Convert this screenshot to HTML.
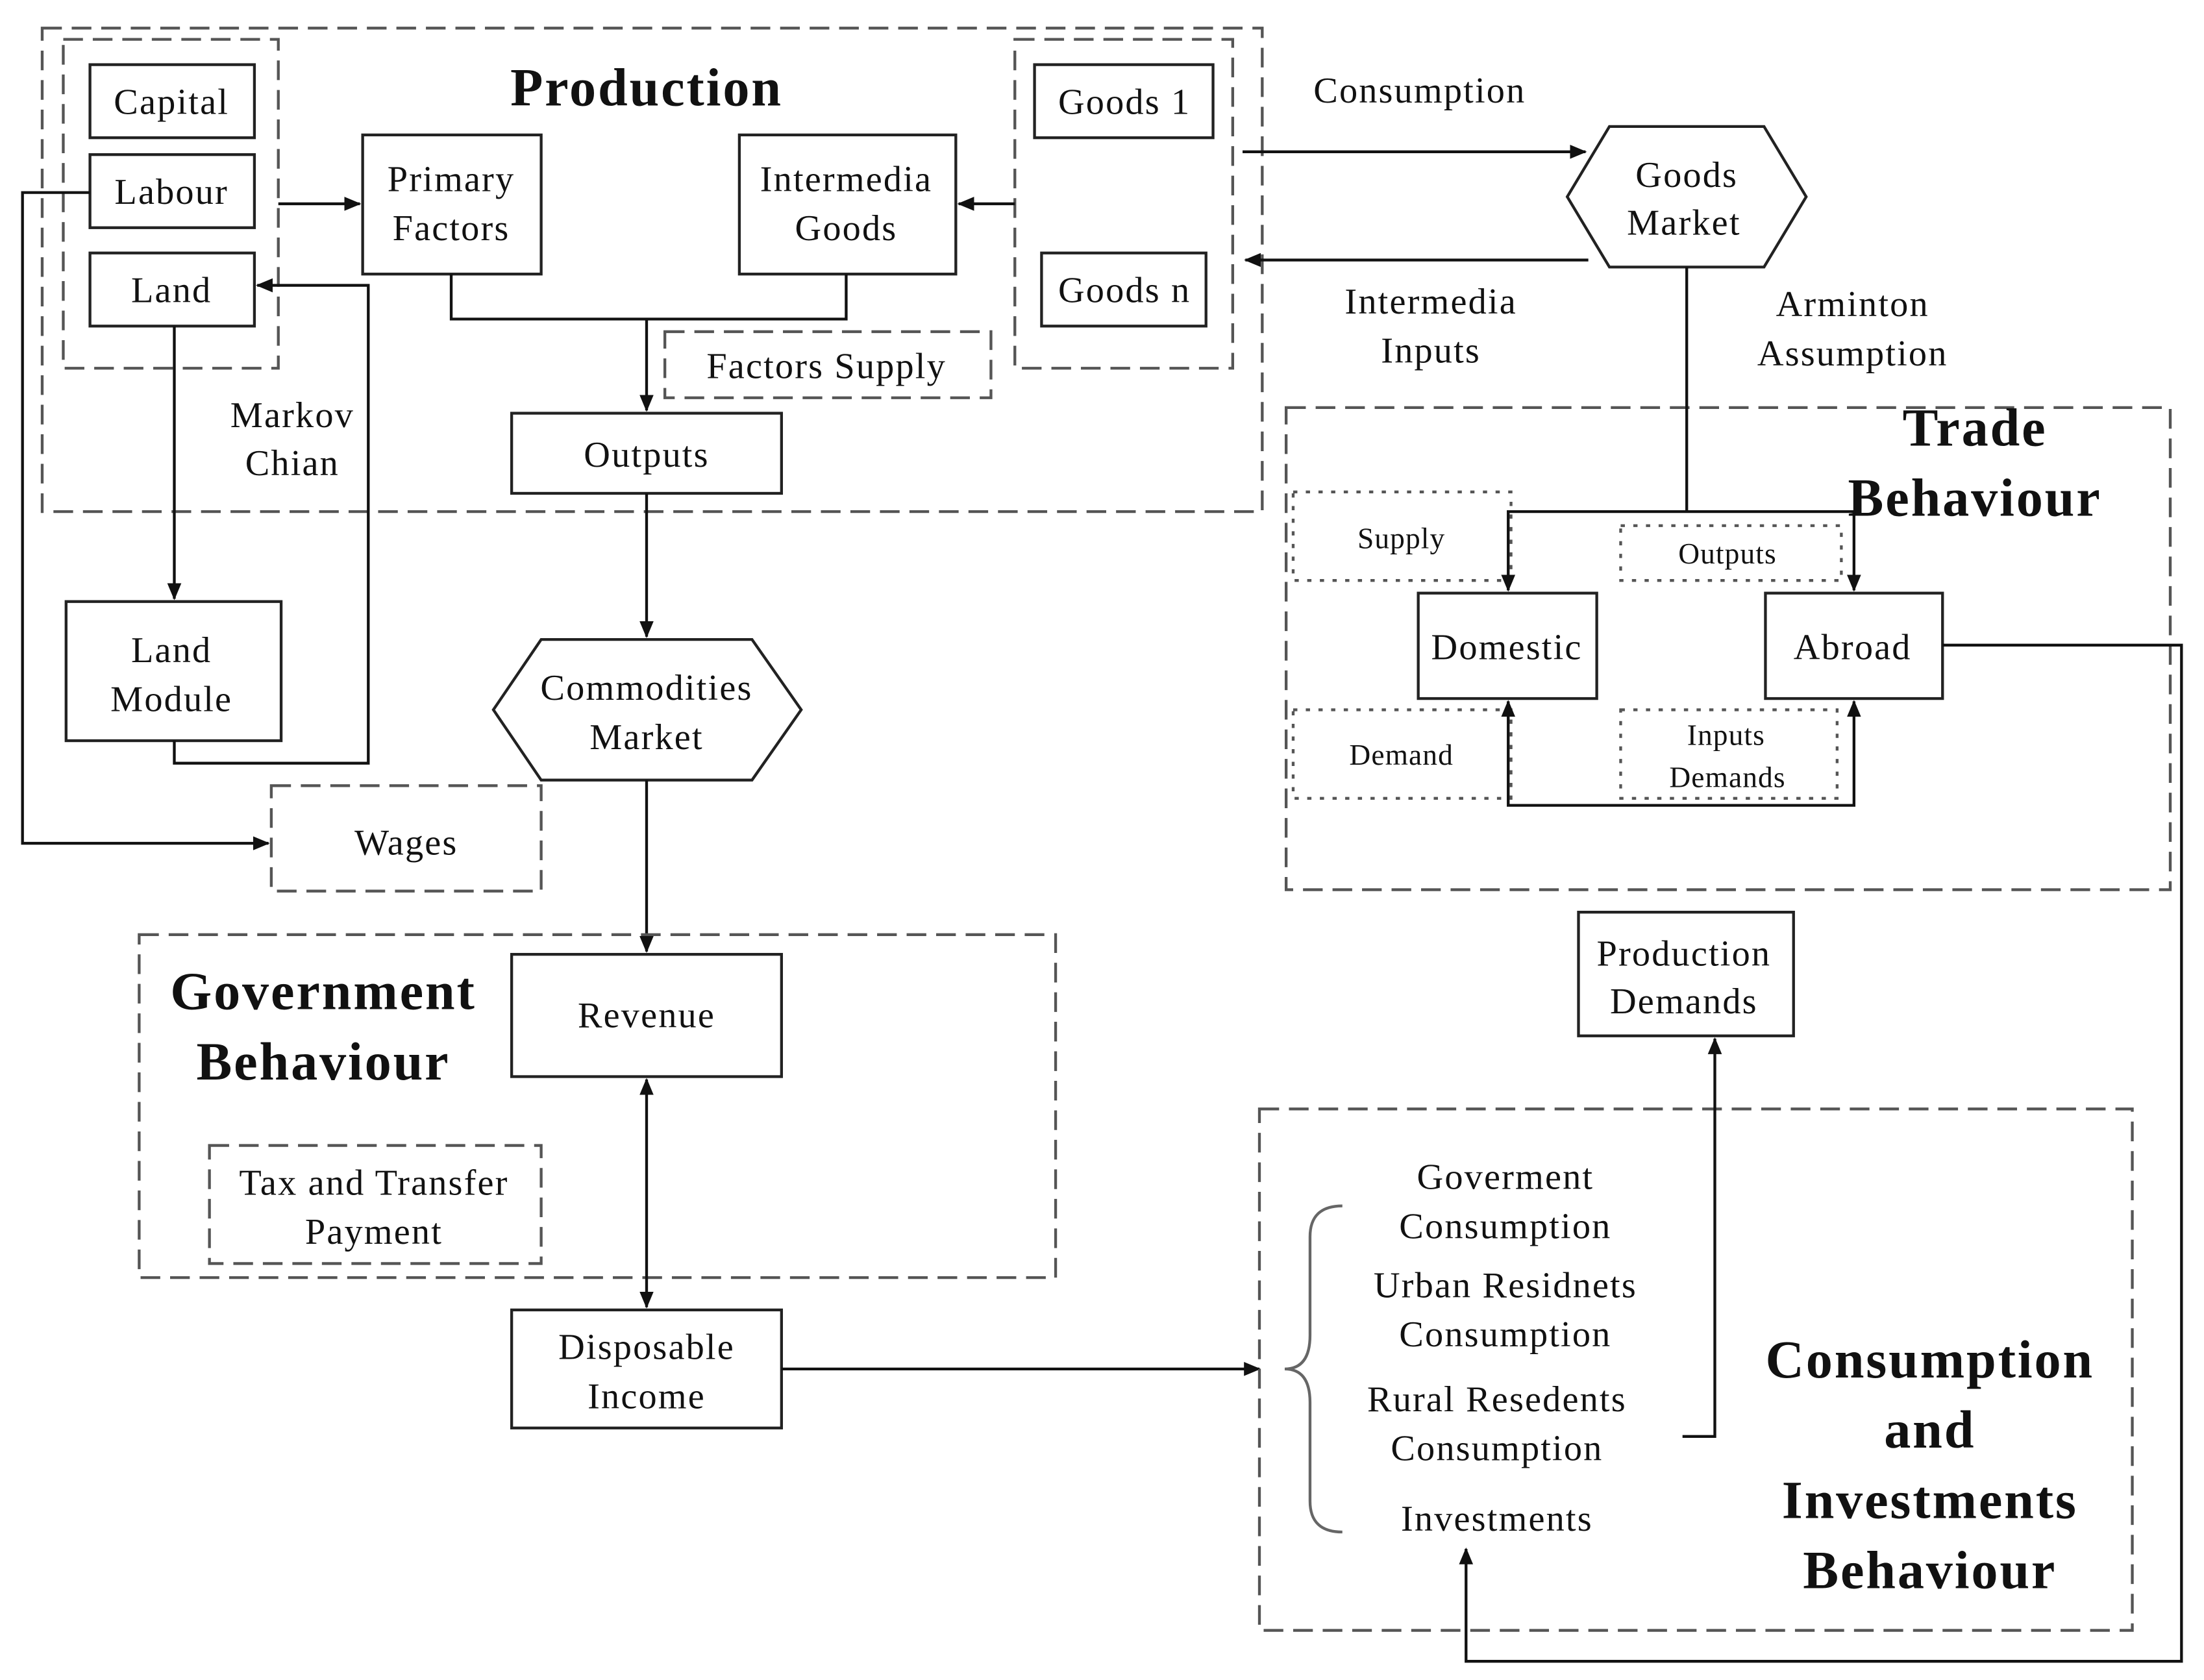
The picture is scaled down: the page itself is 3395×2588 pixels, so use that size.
<!DOCTYPE html>
<html><head><meta charset="utf-8"><style>
html,body{margin:0;padding:0;background:#fff;}
svg{display:block;}
text{font-family:"Liberation Serif",serif;fill:#111;text-anchor:middle;}
.t{font-size:26px;letter-spacing:1px;}
.s{font-size:21px;letter-spacing:0.5px;}
.b{font-size:38px;font-weight:bold;letter-spacing:1.3px;}
.box{fill:#fff;stroke:#222;stroke-width:2;}
.dash{fill:none;stroke:#555;stroke-width:2;stroke-dasharray:14,7;}
.dot{fill:none;stroke:#555;stroke-width:2;stroke-dasharray:3,6;}
.ln{fill:none;stroke:#111;stroke-width:2;}
</style></head><body>
<svg width="3395" height="2588" viewBox="0 0 1568 1195.3" xmlns="http://www.w3.org/2000/svg">
<defs><marker id="a" markerWidth="12" markerHeight="12" refX="11" refY="6" orient="auto-start-reverse" markerUnits="userSpaceOnUse"><path d="M0,1 L12,6 L0,11 Z" fill="#111"/></marker></defs>
<rect width="1568" height="1196" fill="#fff"/>
<!-- Production -->
<rect class="dash" x="30" y="20" width="868" height="344"/>
<rect class="dash" x="45" y="28" width="153" height="234"/>
<rect class="dash" x="722" y="28" width="155" height="234"/>
<text class="b" x="460" y="75">Production</text>
<rect class="box" x="64" y="46" width="117" height="52"/><text class="t" x="122" y="81">Capital</text>
<rect class="box" x="64" y="110" width="117" height="52"/><text class="t" x="122" y="145">Labour</text>
<rect class="box" x="64" y="180" width="117" height="52"/><text class="t" x="122" y="215">Land</text>
<rect class="box" x="258" y="96" width="127" height="99"/><text class="t" x="321" y="136">Primary</text><text class="t" x="321" y="171">Factors</text>
<rect class="box" x="526" y="96" width="154" height="99"/><text class="t" x="602" y="136">Intermedia</text><text class="t" x="602" y="171">Goods</text>
<rect class="box" x="736" y="46" width="127" height="52"/><text class="t" x="800" y="81">Goods 1</text>
<rect class="box" x="741" y="180" width="117" height="52"/><text class="t" x="800" y="215">Goods n</text>
<rect class="dash" x="473" y="236" width="232" height="47"/><text class="t" x="588" y="269">Factors Supply</text>
<rect class="box" x="364" y="294" width="192" height="57"/><text class="t" x="460" y="332">Outputs</text>
<path class="ln" d="M321,195 V227 H602 V195"/>
<path class="ln" d="M460,227 V292" marker-end="url(#a)"/>
<path class="ln" d="M198,145 H256" marker-end="url(#a)"/>
<path class="ln" d="M722,145 H682" marker-end="url(#a)"/>
<text class="t" x="208" y="304">Markov</text><text class="t" x="208" y="338">Chian</text>
<!-- Land module -->
<path class="ln" d="M124,232 V426" marker-end="url(#a)"/>
<rect class="box" x="47" y="428" width="153" height="99"/><text class="t" x="122" y="471">Land</text><text class="t" x="122" y="506">Module</text>
<path class="ln" d="M124,527 V543 H262 V203 H183" marker-end="url(#a)"/>
<path class="ln" d="M64,137 H16 V600 H191" marker-end="url(#a)"/>
<rect class="dash" x="193" y="559" width="192" height="75"/><text class="t" x="289" y="608">Wages</text>
<!-- Commodities -->
<path class="ln" d="M460,351 V453" marker-end="url(#a)"/>
<polygon class="box" points="351,505 385,455 535,455 570,505 535,555 385,555"/>
<text class="t" x="460" y="498">Commodities</text><text class="t" x="460" y="533">Market</text>
<path class="ln" d="M460,555 V677" marker-end="url(#a)"/>
<!-- Government -->
<rect class="dash" x="99" y="665" width="652" height="244"/>
<text class="b" x="230" y="718">Government</text><text class="b" x="230" y="768">Behaviour</text>
<rect class="box" x="364" y="679" width="192" height="87"/><text class="t" x="460" y="731">Revenue</text>
<rect class="dash" x="149" y="815" width="236" height="84"/><text class="t" x="266" y="850">Tax and Transfer</text><text class="t" x="266" y="885">Payment</text>
<path class="ln" d="M460,768 V930" marker-start="url(#a)" marker-end="url(#a)"/>
<rect class="box" x="364" y="932" width="192" height="84"/><text class="t" x="460" y="967">Disposable</text><text class="t" x="460" y="1002">Income</text>
<path class="ln" d="M556,974 H896" marker-end="url(#a)"/>
<!-- Goods market -->
<text class="t" x="1010" y="73">Consumption</text>
<path class="ln" d="M884,108 H1128" marker-end="url(#a)"/>
<polygon class="box" points="1115,140 1145,90 1255,90 1285,140 1255,190 1145,190"/>
<text class="t" x="1200" y="133">Goods</text><text class="t" x="1198" y="167">Market</text>
<path class="ln" d="M1130,185 H886" marker-end="url(#a)"/>
<text class="t" x="1018" y="223">Intermedia</text><text class="t" x="1018" y="258">Inputs</text>
<text class="t" x="1318" y="225">Arminton</text><text class="t" x="1318" y="260">Assumption</text>
<!-- Trade -->
<rect class="dash" x="915" y="290" width="629" height="343"/>
<text class="b" x="1405" y="317">Trade</text><text class="b" x="1405" y="367">Behaviour</text>
<rect class="dot" x="920" y="350" width="155" height="63"/><text class="s" x="997" y="390">Supply</text>
<rect class="dot" x="1153" y="374" width="157" height="39"/><text class="s" x="1229" y="401">Outputs</text>
<rect class="dot" x="920" y="505" width="155" height="63"/><text class="s" x="997" y="544">Demand</text>
<rect class="dot" x="1153" y="505" width="154" height="63"/><text class="s" x="1228" y="530">Inputs</text><text class="s" x="1229" y="560">Demands</text>
<path class="ln" d="M1200,190 V364"/>
<path class="ln" d="M1073,420 V364 H1319 V420" marker-start="url(#a)" marker-end="url(#a)"/>
<rect class="box" x="1009" y="422" width="127" height="75"/><text class="t" x="1072" y="469">Domestic</text>
<rect class="box" x="1256" y="422" width="126" height="75"/><text class="t" x="1318" y="469">Abroad</text>
<path class="ln" d="M1073,499 V573 H1319 V499" marker-start="url(#a)" marker-end="url(#a)"/>
<path class="ln" d="M1382,459 H1552 V1182 H1043 V1102" marker-end="url(#a)"/>
<!-- Consumption -->
<rect class="box" x="1123" y="649" width="153" height="88"/><text class="t" x="1198" y="687">Production</text><text class="t" x="1198" y="721">Demands</text>
<rect class="dash" x="896" y="789" width="621" height="371"/>
<path class="ln" style="stroke:#666" d="M955,858 Q932,858 932,880 V950 Q932,974 914,974 Q932,974 932,998 V1068 Q932,1090 955,1090"/>
<text class="t" x="1071" y="846">Goverment</text><text class="t" x="1071" y="881">Consumption</text>
<text class="t" x="1071" y="923">Urban Residnets</text><text class="t" x="1071" y="958">Consumption</text>
<text class="t" x="1065" y="1004">Rural Resedents</text><text class="t" x="1065" y="1039">Consumption</text>
<text class="t" x="1065" y="1089">Investments</text>
<path class="ln" d="M1197,1022 H1220 V739" marker-end="url(#a)"/>
<text class="b" x="1373" y="980">Consumption</text><text class="b" x="1373" y="1030">and</text><text class="b" x="1373" y="1080">Investments</text><text class="b" x="1373" y="1130">Behaviour</text>
</svg>
</body></html>
